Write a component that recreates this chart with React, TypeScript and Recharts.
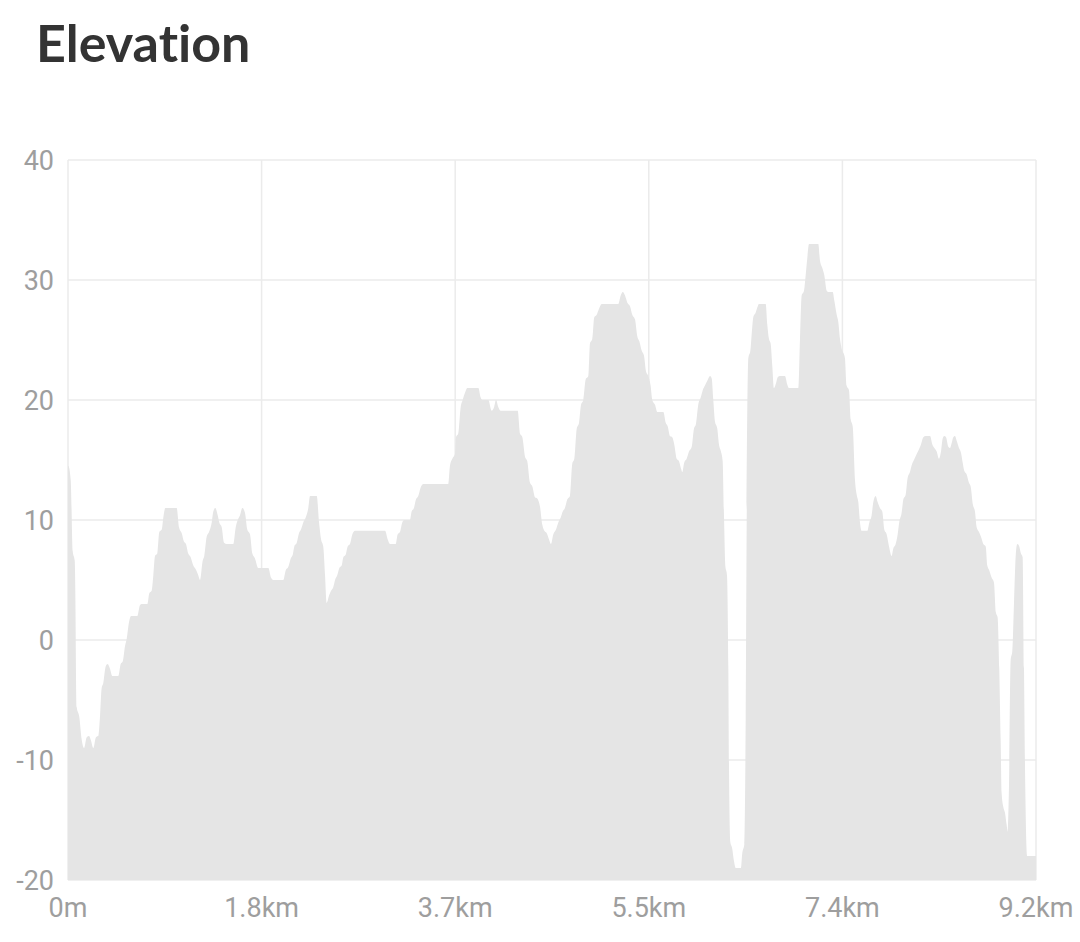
import React from "react";
import { AreaChart, Area, XAxis, YAxis, CartesianGrid } from "recharts";

// distance along the route in metres
const distances = [
  0, 3, 26, 45, 64, 83, 107, 130, 152, 178, 200, 219, 240, 266, 288, 304, 320, 335, 358, 377,
  399, 421, 478, 501, 520, 542, 558, 580, 599, 659, 684, 700, 754, 773, 795, 811, 827, 849, 868, 891,
  906, 925, 1033, 1055, 1081, 1102, 1121, 1143, 1166, 1191, 1214, 1238, 1255, 1280, 1295, 1318, 1340, 1366, 1381, 1400,
  1423, 1438, 1461, 1483, 1508, 1571, 1594, 1613, 1635, 1657, 1682, 1704, 1730, 1752, 1777, 1809, 1904, 1929, 1951, 2046,
  2069, 2094, 2117, 2136, 2151, 2174, 2195, 2214, 2236, 2259, 2284, 2300, 2364, 2386, 2405, 2426, 2443, 2459, 2481, 2500,
  2521, 2538, 2559, 2579, 2601, 2617, 2639, 2658, 2680, 2702, 2728, 3013, 3038, 3060, 3114, 3133, 3155, 3177, 3196, 3250,
  3266, 3288, 3307, 3329, 3352, 3377, 3614, 3630, 3659, 3678, 3688, 3709, 3732, 3751, 3773, 3795, 3900, 3922, 3938, 3995,
  4027, 4049, 4068, 4090, 4112, 4274, 4296, 4318, 4343, 4365, 4391, 4413, 4438, 4460, 4486, 4508, 4527, 4550, 4571, 4590,
  4612, 4638, 4660, 4683, 4702, 4723, 4745, 4771, 4793, 4812, 4835, 4857, 4876, 4897, 4920, 4945, 4961, 4983, 5002, 5025,
  5047, 5072, 5230, 5253, 5272, 5294, 5316, 5342, 5363, 5389, 5411, 5430, 5453, 5474, 5493, 5515, 5537, 5553, 5579, 5601,
  5658, 5681, 5700, 5721, 5743, 5762, 5785, 5807, 5826, 5838, 5857, 5880, 5902, 5928, 5949, 5968, 5990, 6013, 6032, 6054,
  6076, 6102, 6118, 6133, 6149, 6171, 6187, 6206, 6222, 6235, 6247, 6263, 6276, 6282, 6294, 6313, 6329, 6346, 6396, 6408,
  6428, 6441, 6450, 6466, 6485, 6498, 6513, 6536, 6551, 6567, 6631, 6646, 6662, 6678, 6694, 6710, 6729, 6745, 6767, 6814,
  6836, 6852, 6941, 6957, 6973, 6995, 7011, 7026, 7043, 7131, 7147, 7169, 7188, 7211, 7226, 7268, 7283, 7306, 7321, 7337,
  7353, 7384, 7400, 7423, 7439, 7458, 7480, 7496, 7511, 7527, 7543, 7597, 7616, 7638, 7654, 7676, 7695, 7717, 7739, 7758,
  7781, 7803, 7828, 7843, 7866, 7885, 7900, 7923, 7939, 7961, 7980, 8002, 8024, 8040, 8066, 8088, 8107, 8129, 8152, 8193,
  8215, 8234, 8256, 8278, 8297, 8313, 8329, 8345, 8367, 8383, 8398, 8414, 8430, 8446, 8468, 8487, 8503, 8518, 8541, 8563,
  8579, 8600, 8620, 8636, 8658, 8677, 8699, 8722, 8737, 8756, 8778, 8800, 8819, 8835, 8851, 8864, 8873, 8889, 8905, 8921,
  8931, 8943, 8959, 8975, 8991, 9007, 9022, 9041, 9057, 9073, 9086, 9098, 9117, 9200,
];

// elevation in metres at each distance
const elevations = [
  14.5, 14.5, 13.3, 7.4, 6.6, -5.6, -6.4, -8.3, -9, -8.1, -8, -8.4, -9, -8.1, -8, -6.4, -4, -3.6, -2.2, -2,
  -2.4, -3, -3, -2, -1.8, -0.5, 0.1, 1.5, 2, 2, 2.9, 3, 3, 3.9, 4.1, 5.4, 7, 7.2, 9, 9.2,
  10.2, 11, 11, 9.4, 8.9, 8.2, 8, 7.2, 6.9, 6.2, 5.9, 5.4, 5, 6.6, 7, 8.6, 9, 9.8, 10.7, 11,
  10.4, 9.8, 9.4, 8.1, 8, 8, 9.4, 10, 10.4, 11, 10.6, 9.2, 8.8, 7.2, 6.8, 6, 6, 5.2, 5, 5,
  5.8, 6.1, 6.8, 7.1, 7.8, 8.1, 8.9, 9.2, 9.8, 10.2, 11, 12, 12, 9.8, 8.4, 7.8, 5.4, 3.1, 3.7, 4.1,
  4.4, 5, 5.4, 6, 6.2, 6.9, 7.1, 7.8, 8, 8.8, 9.1, 9.1, 8.4, 8, 8, 8.8, 9, 9.8, 10, 10,
  10.7, 11, 11.7, 12, 12.7, 13, 13, 14.5, 15.2, 15.5, 16.9, 17.2, 19.4, 20, 20.6, 21, 21, 20.2, 20, 20,
  19.1, 19.4, 20, 19.4, 19.1, 19.1, 17.2, 16.9, 15.3, 14.9, 13.1, 12.8, 11.9, 11.8, 11.1, 9.6, 9.1, 8.9, 8.4, 8,
  8.8, 9.2, 9.8, 10.2, 10.7, 11, 11.7, 12, 14.7, 15.1, 17.6, 18.1, 19.6, 20, 21.7, 22, 24.7, 25.1, 26.9, 27.1,
  27.6, 28, 28, 28.7, 29, 28.7, 28.1, 27.8, 27.1, 26.7, 25.3, 24.9, 24.1, 23.7, 22.4, 22, 21.2, 20, 19.6, 19,
  19, 18.1, 17.8, 17, 16.9, 16.3, 15.1, 14.9, 14.3, 14, 14.8, 15.1, 15.7, 16.1, 17.6, 18, 19.6, 20.2, 20.8, 21.2,
  21.6, 22, 21.8, 20, 18.2, 17.6, 16.3, 15.7, 14.9, 10.2, 6.2, 5.4, -2.4, -10.3, -16.8, -17.4, -18.4, -19, -19, -17.8,
  -17, -6.4, 9.4, 23.5, 24.1, 25.5, 26.9, 27.3, 27.7, 28, 28, 26.3, 25.1, 24.7, 22.8, 21, 21.4, 21.9, 22, 22,
  21.3, 21, 21, 25.1, 28.7, 29.1, 30.4, 31.8, 33, 33, 31.6, 31, 30.4, 29.1, 29, 29, 28.3, 27.1, 26.5, 25.1,
  24.3, 23.5, 21.2, 20.8, 18.4, 17.8, 13.3, 12.1, 11.5, 9.8, 9.1, 9.1, 9.8, 10.4, 11.5, 12, 11.5, 11, 10.7, 9.2,
  8.8, 7.8, 7, 7.6, 8, 8.8, 9.8, 10.6, 11.7, 12.1, 13.5, 14, 14.7, 15, 15.5, 15.9, 16.3, 16.9, 17, 17,
  16.3, 16, 15.7, 15.1, 15.7, 16.8, 17, 16.9, 16.1, 16, 16.4, 16.9, 17, 16.6, 16, 15.6, 14.8, 14.1, 13.8, 13.1,
  12.8, 11.3, 10.7, 9.4, 9, 8.6, 8, 7.8, 6.2, 5.8, 5.2, 4.8, 2.3, 1.9, -2.4, -8.3, -12.7, -13.9, -14.4, -15.4,
  -16, -12.3, -1.7, -0.9, 3.1, 7, 8, 7.8, 7.2, 6.9, -2.4, -12.3, -18, -18,
];

const xTicks = [0, 1840, 3680, 5520, 7360, 9200];
const yTicks = [-20, -10, 0, 10, 20, 30, 40];

const data = distances.map((d, i) => ({ dist: d, elevation: elevations[i] }));

const formatDistance = (v: number) => (v === 0 ? "0m" : (v / 1000).toFixed(1) + "km");

const tickStyle = { fontSize: 27, fill: "#9e9e9e", fontFamily: "Roboto, sans-serif" };

export default function App() {
  return (
    <div
      style={{
        position: "absolute",
        left: 0,
        top: 0,
        width: 1080,
        height: 942,
        overflow: "hidden",
        background: "#fff",
      }}
    >
      <div
        style={{
          position: "absolute",
          left: 36,
          top: 16,
          fontFamily: "Lato, sans-serif",
          fontWeight: 700,
          fontSize: 52,
          lineHeight: 1,
          color: "#333333",
          fontVariantLigatures: "none",
        }}
      >
        Elevation
      </div>
      <div style={{ position: "absolute", left: 0, top: 0 }}>
        <AreaChart
          width={1080}
          height={942}
          data={data}
          margin={{ top: 160, right: 44, bottom: 0, left: 0 }}
        >
          <CartesianGrid stroke="#ebebeb" strokeWidth={1.5} />
          <XAxis
            dataKey="dist"
            type="number"
            domain={[0, 9200]}
            ticks={xTicks}
            tickFormatter={formatDistance}
            axisLine={false}
            tickLine={false}
            tickSize={0}
            tickMargin={18}
            height={62}
            tick={tickStyle}
            interval={0}
          />
          <YAxis
            type="number"
            domain={[-20, 40]}
            ticks={yTicks}
            axisLine={false}
            tickLine={false}
            tickSize={0}
            tickMargin={14}
            width={68}
            tick={tickStyle}
            interval={0}
          />
          <Area
            type="monotone"
            dataKey="elevation"
            baseValue="dataMin"
            stroke="none"
            fill="#e5e5e5"
            fillOpacity={1}
            isAnimationActive={false}
            dot={false}
            activeDot={false}
          />
        </AreaChart>
      </div>
    </div>
  );
}
